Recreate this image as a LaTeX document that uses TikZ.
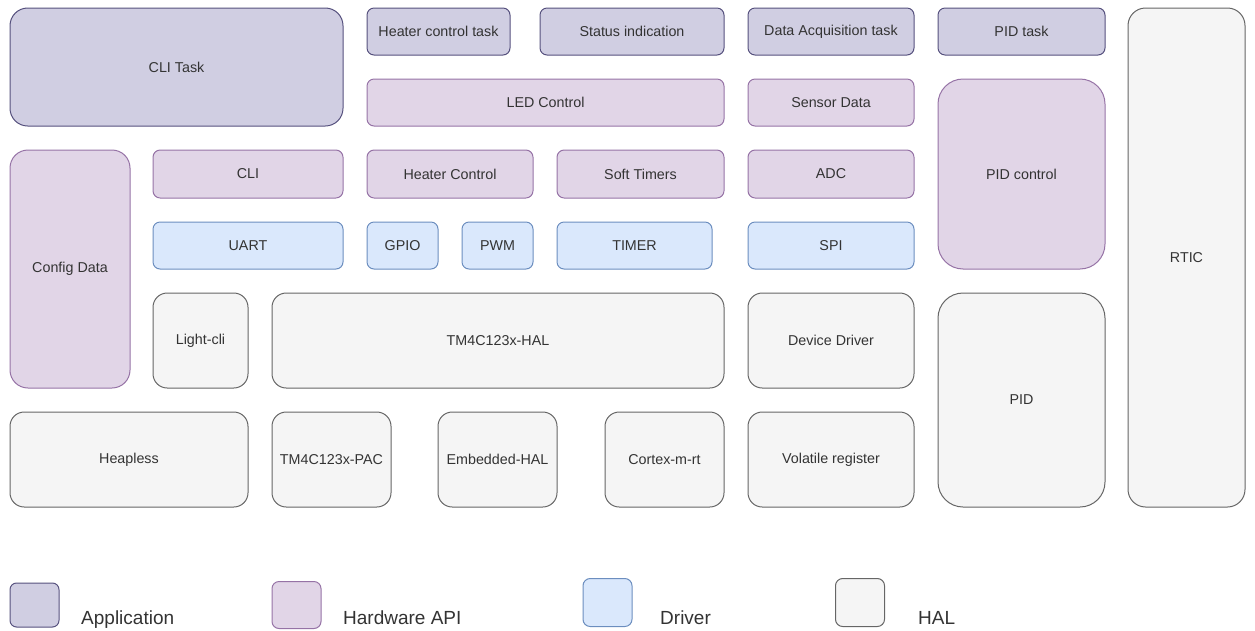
\documentclass[tikz,border=0pt]{standalone}
\usepackage{fontspec}
\setmainfont{Liberation Sans}
\usepackage{tikz}
\usetikzlibrary{positioning}
\usepackage{xcolor}
\definecolor{appfill}{HTML}{D0CEE2}
\definecolor{appline}{HTML}{56517E}
\definecolor{apifill}{HTML}{E1D5E7}
\definecolor{apiline}{HTML}{9673A6}
\definecolor{drvfill}{HTML}{DAE8FC}
\definecolor{drvline}{HTML}{6C8EBF}
\definecolor{halfill}{HTML}{F5F5F5}
\definecolor{halline}{HTML}{666666}
\definecolor{labeltext}{HTML}{333333}

\begin{document}
\begin{tikzpicture}[x=1pt, y=-1pt,
    sz/.style 2 args={minimum width=#1pt, minimum height=#2pt, rounded corners={0.15*min(#1,#2)}},
    layer/.style={draw, line width=1pt, inner sep=0pt, outer sep=0pt, text=labeltext, font=\fontsize{14.3}{16}\selectfont},
    appbox/.style={layer, fill=appfill, draw=appline},
    apibox/.style={layer, fill=apifill, draw=apiline},
    drvbox/.style={layer, fill=drvfill, draw=drvline},
    halbox/.style={layer, fill=halfill, draw=halline},
    legtext/.style={anchor=base west, inner sep=0pt, font=\fontsize{19}{22}\selectfont, text=labeltext}]
    \useasboundingbox (0,0) rectangle (1255,630);

    % Application layer
    \node[appbox, sz={333}{118}] (clitask) at (176.5,67) {CLI Task};
    \node[appbox, sz={143}{47}] (heatertask) at (438.5,31.5) {Heater control task};
    \node[appbox, sz={184}{47}] (status) at (632,31.5) {Status indication};
    \node[appbox, sz={166}{47}] (daqtask) at (831,31.5) {Data Acquisition task};
    \node[appbox, sz={167}{47}] (pidtask) at (1021.5,31.5) {PID task};

    % Hardware API layer
    \node[apibox, sz={357}{47}] (led) at (545.5,102.5) {LED Control};
    \node[apibox, sz={166}{47}] (sensor) at (831,102.5) {Sensor Data};
    \node[apibox, sz={167}{190}] (pidctrl) at (1021.5,174) {PID control};
    \node[apibox, sz={120}{238}] (config) at (70,269) {Config Data};
    \node[apibox, sz={190}{48}] (cli) at (248,174) {CLI};
    \node[apibox, sz={166}{48}] (heater) at (450,174) {Heater Control};
    \node[apibox, sz={167}{48}] (timers) at (640.5,174) {Soft Timers};
    \node[apibox, sz={166}{48}] (adc) at (831,174) {ADC};

    % Driver layer
    \node[drvbox, sz={190}{47}] (uart) at (248,245.5) {UART};
    \node[drvbox, sz={71}{47}] (gpio) at (402.5,245.5) {GPIO};
    \node[drvbox, sz={71}{47}] (pwm) at (497.5,245.5) {PWM};
    \node[drvbox, sz={155}{47}] (timer) at (634.5,245.5) {TIMER};
    \node[drvbox, sz={166}{47}] (spi) at (831,245.5) {SPI};

    % HAL layer
    \node[halbox, sz={117}{499}] (rtic) at (1186.5,257.5) {RTIC};
    \node[halbox, sz={95}{95}] (lightcli) at (200.5,340.5) {Light-cli};
    \node[halbox, sz={452}{95}] (tmhal) at (498,340.5) {TM4C123x-HAL};
    \node[halbox, sz={166}{95}] (devdrv) at (831,340.5) {Device Driver};
    \node[halbox, sz={167}{214}] (pid) at (1021.5,400) {PID};
    \node[halbox, sz={238}{95}] (heapless) at (129,459.5) {Heapless};
    \node[halbox, sz={119}{95}] (tmpac) at (331.5,459.5) {TM4C123x-PAC};
    \node[halbox, sz={119}{95}] (emhal) at (497.5,459.5) {Embedded-HAL};
    \node[halbox, sz={119}{95}] (cortex) at (664.5,459.5) {Cortex-m-rt};
    \node[halbox, sz={166}{95}] (volatile) at (831,459.5) {Volatile register};

    % Legend
    \node[appbox, sz={49}{44}] (legapp) at (34.5,605) {};
    \node[apibox, sz={49}{47}] (legapi) at (296.5,605) {};
    \node[drvbox, sz={49}{48}] (legdrv) at (607.5,602.5) {};
    \node[halbox, sz={49}{48}] (leghal) at (860,602.5) {};
    \node[legtext] (legapptext) at (81,624) {Application};
    \node[legtext] (legapitext) at (343,624) {Hardware API};
    \node[legtext] (legdrvtext) at (660,624) {Driver};
    \node[legtext] (leghaltext) at (918,624) {HAL};
\end{tikzpicture}
\end{document}
